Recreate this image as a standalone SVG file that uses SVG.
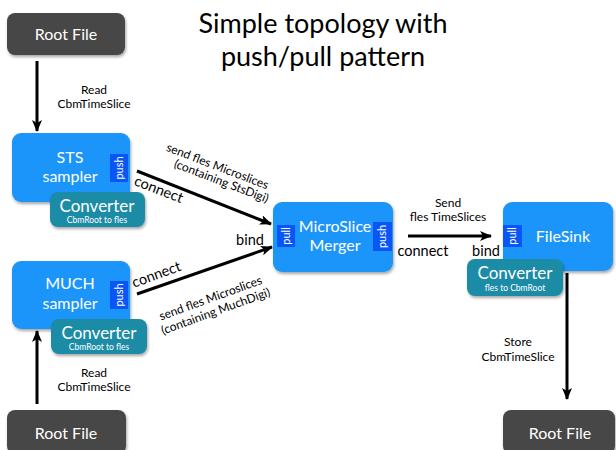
<svg xmlns="http://www.w3.org/2000/svg" width="616" height="450" viewBox="0 0 616 450">
<defs>
<filter id="sh" x="-10%" y="-10%" width="125%" height="130%">
<feDropShadow dx="1" dy="2" stdDeviation="1.5" flood-color="#000" flood-opacity="0.35"/>
</filter>
<marker id="ah2" viewBox="0 0 12 10" refX="11" refY="5" markerWidth="12" markerHeight="10" orient="auto" markerUnits="userSpaceOnUse">
<path d="M0,0 L12,5 L0,10 L3,5 z" fill="#000"/>
</marker>
</defs>
<style>
text{font-family:Lato,"Open Sans","DejaVu Sans",sans-serif}
.root{fill:#474747;filter:url(#sh)}
.blue{fill:#1e95fb;filter:url(#sh)}
.tab{fill:#0a55f5}
.conv{fill:#1a8ba6;filter:url(#sh)}
.wt{fill:#fff;font-size:16px;text-anchor:middle}
.ct{fill:#fff;font-size:17px;text-anchor:middle}
.cs{fill:#fff;font-size:8.5px;text-anchor:middle}
.tt{fill:#fff;font-size:11px;text-anchor:middle}
.lb{fill:#000;font-size:12px;text-anchor:middle}
.cn{fill:#000;font-size:14.5px;text-anchor:middle}
.ln{stroke:#000;stroke-width:3;fill:none}
.title{fill:#000;font-size:27px;text-anchor:middle}
</style>
<g id="title">
<text class="title" x="323" y="33">Simple topology with</text>
<text class="title" x="323" y="66">push/pull pattern</text>
</g>
<g id="connectors">
<line class="ln" x1="37" y1="61" x2="37" y2="131" marker-end="url(#ah2)"/>
<line class="ln" x1="37" y1="404" x2="37" y2="331" marker-end="url(#ah2)"/>
<line class="ln" x1="137" y1="171" x2="271" y2="224" marker-end="url(#ah2)"/>
<line class="ln" x1="137" y1="294" x2="272" y2="247" marker-end="url(#ah2)"/>
<line class="ln" x1="408" y1="236" x2="491" y2="236" marker-end="url(#ah2)"/>
<line class="ln" x1="567" y1="273" x2="567" y2="399" marker-end="url(#ah2)"/>
<text class="lb" x="94" y="94">Read</text>
<text class="lb" x="94" y="108">CbmTimeSlice</text>
<text class="lb" x="94" y="377">Read</text>
<text class="lb" x="94" y="391">CbmTimeSlice</text>
<text class="lb" x="518" y="346">Store</text>
<text class="lb" x="518" y="361">CbmTimeSlice</text>
<text class="lb" x="448" y="207">Send</text>
<text class="lb" x="448" y="221">fles TimeSlices</text>
<text class="cn" x="423" y="256">connect</text>
<text class="cn" x="486" y="256">bind</text>
<text class="cn" x="250" y="245">bind</text>
<text class="cn" transform="translate(157,194) rotate(21)">connect</text>
<text class="cn" transform="translate(158,279) rotate(-20)">connect</text>
<text class="lb" transform="translate(216,170) rotate(21)">send fles Microslices</text>
<text class="lb" transform="translate(220,185) rotate(21)">(containing StsDigi)</text>
<text class="lb" transform="translate(212,302) rotate(-20)">send fles Microslices</text>
<text class="lb" transform="translate(217,315) rotate(-20)">(containing MuchDigi)</text>
</g>
<g id="root1">
<rect class="root" x="7" y="13" width="118" height="42" rx="8"/>
<text class="wt" x="66" y="40">Root File</text>
</g>
<g id="sts">
<rect class="blue" x="12" y="133" width="118" height="69" rx="9"/>
<rect class="tab" x="110" y="154" width="18" height="28"/>
<text class="tt" transform="translate(123,168) rotate(-90)">push</text>
<text class="wt" x="70" y="163">STS</text>
<text class="wt" x="70" y="182">sampler</text>
</g>
<g id="sts-conv">
<rect class="conv" x="50" y="192" width="95" height="35" rx="8"/>
<text class="ct" x="97" y="212">Converter</text>
<text class="cs" x="97" y="223">CbmRoot to fles</text>
</g>
<g id="much">
<rect class="blue" x="12" y="261" width="118" height="68" rx="9"/>
<rect class="tab" x="110" y="281" width="18" height="28"/>
<text class="tt" transform="translate(123,295) rotate(-90)">push</text>
<text class="wt" x="70" y="289">MUCH</text>
<text class="wt" x="70" y="309">sampler</text>
</g>
<g id="much-conv">
<rect class="conv" x="51" y="319" width="96" height="35" rx="8"/>
<text class="ct" x="99" y="339">Converter</text>
<text class="cs" x="99" y="350">CbmRoot to fles</text>
</g>
<g id="root2">
<rect class="root" x="7" y="410" width="119" height="44" rx="8"/>
<text class="wt" x="66" y="439">Root File</text>
</g>
<g id="merger">
<rect class="blue" x="273" y="202" width="120" height="70" rx="9"/>
<rect class="tab" x="277" y="225" width="18" height="22"/>
<text class="tt" transform="translate(290,236) rotate(-90)">pull</text>
<rect class="tab" x="373" y="222" width="19" height="29"/>
<text class="tt" transform="translate(386,236.5) rotate(-90)">push</text>
<text class="wt" x="335" y="232">MicroSlice</text>
<text class="wt" x="335" y="251">Merger</text>
</g>
<g id="filesink">
<rect class="blue" x="503" y="202" width="110" height="69" rx="9"/>
<rect class="tab" x="503" y="225" width="19" height="22"/>
<text class="tt" transform="translate(516,236) rotate(-90)">pull</text>
<text class="wt" x="563" y="242">FileSink</text>
</g>
<g id="sink-conv">
<rect class="conv" x="467" y="259" width="96" height="37" rx="8"/>
<text class="ct" x="515" y="279">Converter</text>
<text class="cs" x="515" y="291">fles to CbmRoot</text>
</g>
<g id="root3">
<rect class="root" x="503" y="410" width="112" height="44" rx="8"/>
<text class="wt" x="560" y="439">Root File</text>
</g>
</svg>
